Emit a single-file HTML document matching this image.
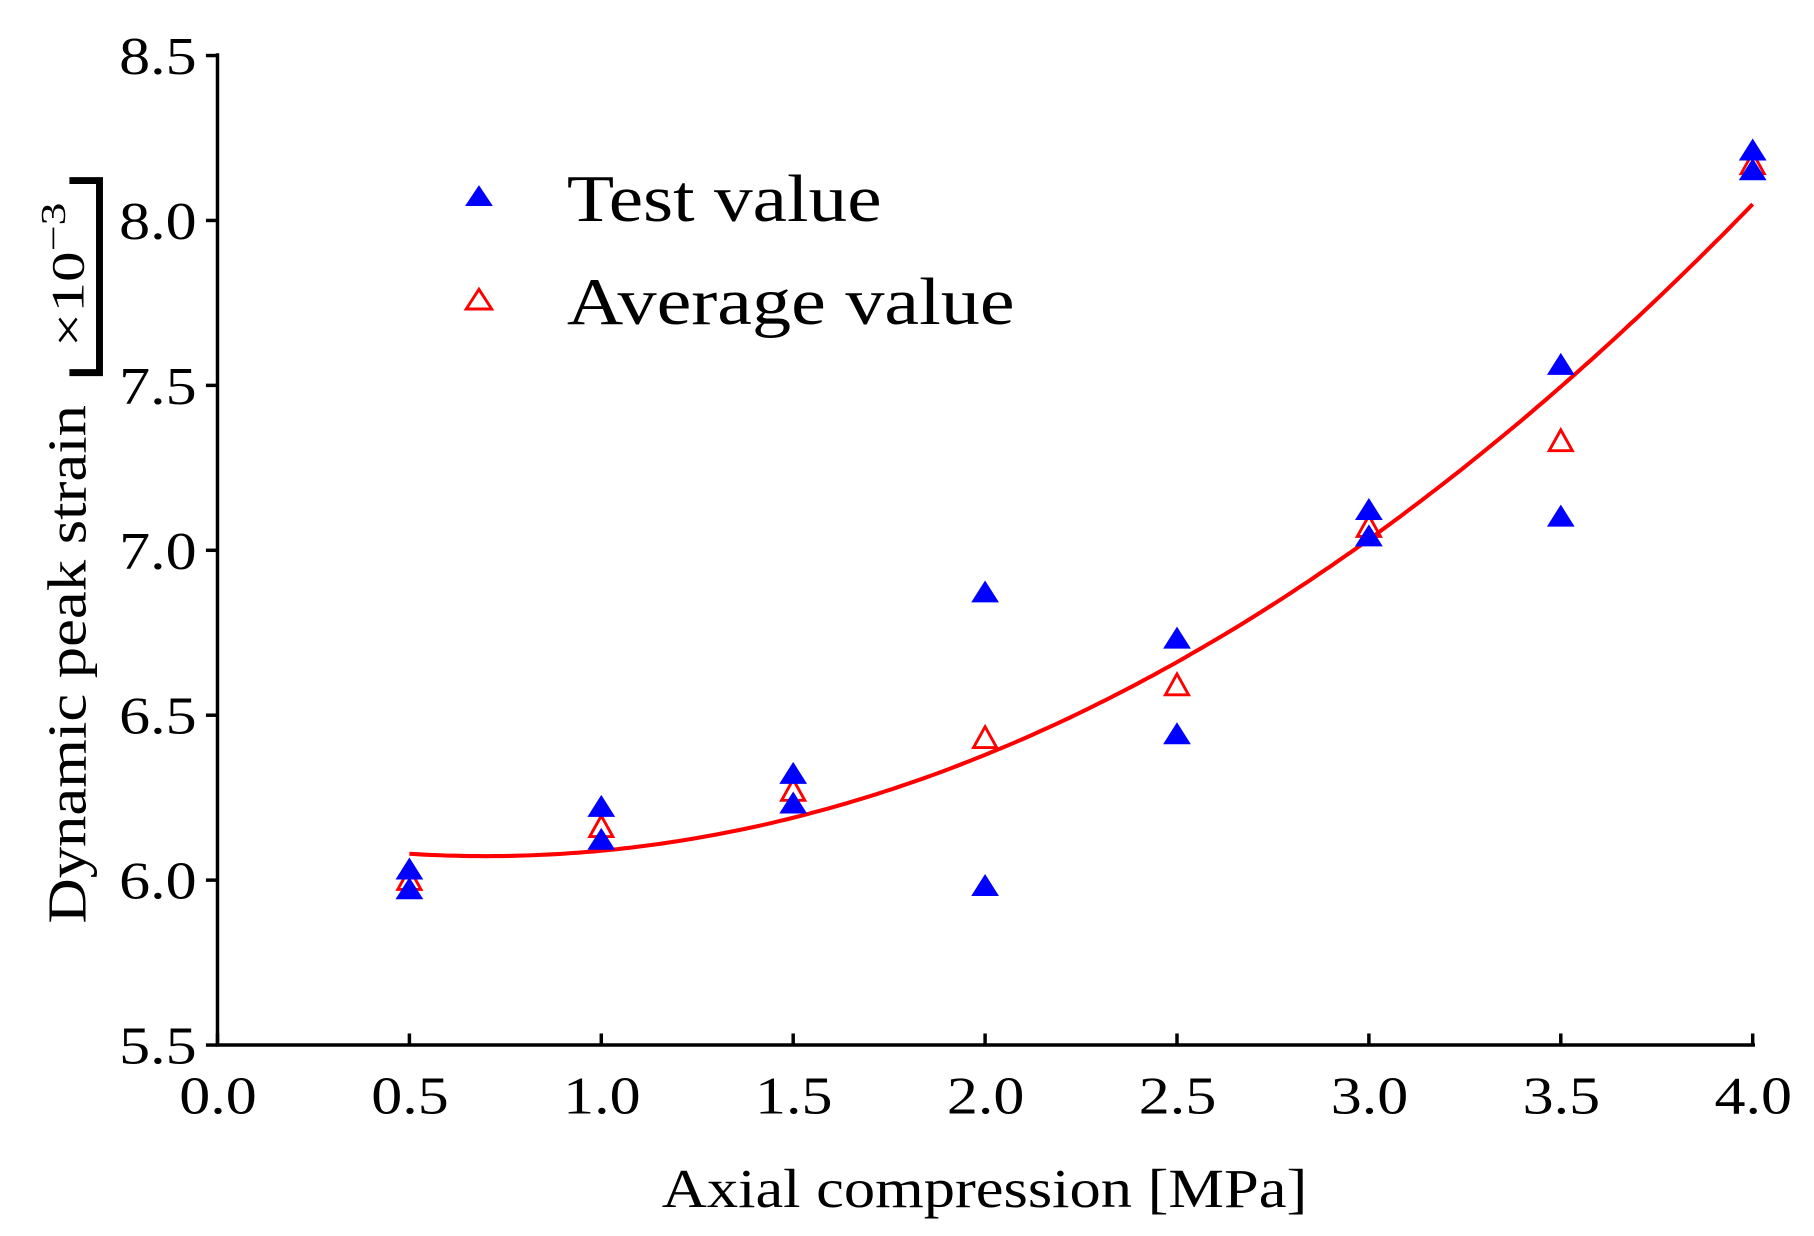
<!DOCTYPE html>
<html><head><meta charset="utf-8"><style>
html,body{margin:0;padding:0;background:#fff;}
svg{display:block;}
text{font-family:"Liberation Serif",serif;fill:#000;}
</style></head><body>
<svg id="s" width="1814" height="1236" viewBox="0 0 1568 1068" preserveAspectRatio="none" xmlns="http://www.w3.org/2000/svg">
<g stroke="#000" stroke-width="3" fill="none">
<line x1="188" y1="46" x2="188" y2="904"/>
<line x1="186.5" y1="903" x2="1517" y2="903"/>
</g>
<g id="ticks" stroke="#000" stroke-width="3"></g>
<g id="labels" font-size="46"></g>
<text x="572" y="1043" font-size="48" textLength="558" lengthAdjust="spacingAndGlyphs">Axial compression [MPa]</text>
<text transform="translate(74,798) rotate(-90)" font-size="48" textLength="448" lengthAdjust="spacingAndGlyphs">Dynamic peak strain</text>
<text transform="translate(72,300) rotate(-90)" font-size="40" textLength="125" lengthAdjust="spacingAndGlyphs">×10<tspan dy="-16" font-size="30">−3</tspan></text>
<path d="M60,322 H86 V156 H60" stroke="#000" stroke-width="6" fill="none"/>
<path id="curve" stroke="#f00" stroke-width="3.5" fill="none"/>
<g id="pts"></g>
<path d="M414,160 L426,178 L402,178 Z" fill="#00f"/>
<text x="490" y="191" font-size="58" textLength="272" lengthAdjust="spacingAndGlyphs">Test value</text>
<path d="M414,250 L425,267 L403,267 Z" fill="none" stroke="#f00" stroke-width="2.5"/>
<text x="490" y="280" font-size="58" textLength="387" lengthAdjust="spacingAndGlyphs">Average value</text>
</svg>
<script>
var X=function(v){return 188+v*331.75},Y=function(v){return 48+(8.5-v)*285};
var t='',l='';
for(var i=0;i<=8;i++){var x=X(i*0.5);t+='<line x1="'+x+'" y1="903" x2="'+x+'" y2="893"/>';l+='<text x="'+(x-33)+'" y="962" textLength="67" lengthAdjust="spacingAndGlyphs">'+(i*0.5).toFixed(1)+'</text>';}
for(var i=0;i<=6;i++){var v=5.5+i*0.5,y=Y(v);t+='<line x1="178" y1="'+y+'" x2="188" y2="'+y+'"/>';l+='<text x="103" y="'+(y+16)+'" textLength="67" lengthAdjust="spacingAndGlyphs">'+v.toFixed(1)+'</text>';}
document.getElementById('ticks').innerHTML=t;document.getElementById('labels').innerHTML=l;
var d='';for(var x=0.5;x<=4.0001;x+=0.02){var v=0.1814*x*x-0.2536*x+6.1614;d+=(d?'L':'M')+X(x).toFixed(1)+','+Y(v).toFixed(1);}
document.getElementById('curve').setAttribute('d',d);
var blue=[[0.5,6.03],[0.5,5.97],[1,6.22],[1,6.12],[1.5,6.32],[1.5,6.23],[2,6.87],[2,5.98],[2.5,6.73],[2.5,6.44],[3,7.12],[3,7.04],[3.5,7.56],[3.5,7.10],[4,8.21],[4,8.15]];
var avg=[[0.5,6.0],[1,6.16],[1.5,6.27],[2,6.43],[2.5,6.59],[3,7.07],[3.5,7.33],[4,8.17]];
var p='';
avg.forEach(function(a){var x=X(a[0]),y=Y(a[1]);p+='<path d="M'+x+','+(y-10)+' L'+(x+10)+','+(y+8)+' L'+(x-10)+','+(y+8)+' Z" fill="none" stroke="#f00" stroke-width="2.5"/>';});
blue.forEach(function(a){var x=X(a[0]),y=Y(a[1]);p+='<path d="M'+x+','+(y-11)+' L'+(x+12)+','+(y+8)+' L'+(x-12)+','+(y+8)+' Z" fill="#00f"/>';});
document.getElementById('pts').innerHTML=p;
</script>
</body></html>
